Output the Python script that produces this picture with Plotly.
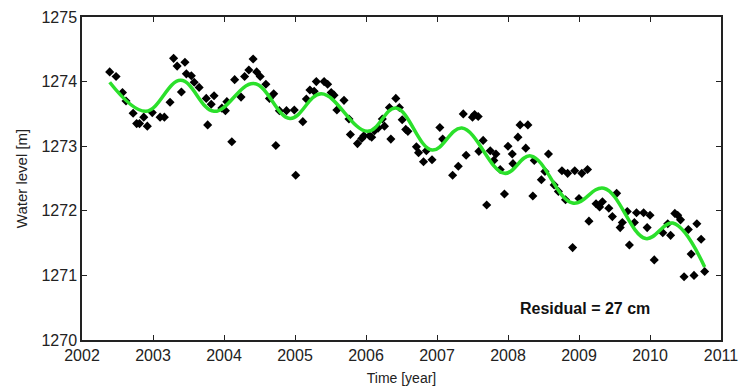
import plotly.graph_objects as go

# Observed water levels (decimal year, metres)
obs_year = [
    2002.39, 2002.48, 2002.57, 2002.62, 2002.72, 2002.77, 2002.81, 2002.87, 2002.92, 2002.99,
    2003.10, 2003.16, 2003.24, 2003.29, 2003.34, 2003.40, 2003.45, 2003.47, 2003.54, 2003.58,
    2003.65, 2003.75, 2003.77, 2003.82, 2003.86, 2003.97, 2004.02, 2004.04, 2004.11, 2004.15,
    2004.24, 2004.29, 2004.35, 2004.41, 2004.46, 2004.51, 2004.59, 2004.64, 2004.70, 2004.73,
    2004.78, 2004.88, 2004.99, 2005.01, 2005.11, 2005.16, 2005.21, 2005.27, 2005.30, 2005.41,
    2005.46, 2005.51, 2005.55, 2005.59, 2005.69, 2005.76, 2005.78, 2005.88, 2005.94, 2005.97,
    2006.05, 2006.08, 2006.12, 2006.17, 2006.23, 2006.26, 2006.33, 2006.35, 2006.42, 2006.47,
    2006.51, 2006.56, 2006.59, 2006.71, 2006.74, 2006.81, 2006.85, 2006.93, 2007.04, 2007.08,
    2007.22, 2007.30, 2007.37, 2007.41, 2007.50, 2007.53, 2007.58, 2007.59, 2007.65, 2007.70,
    2007.75, 2007.80, 2007.83, 2007.89, 2007.95, 2008.00, 2008.06, 2008.07, 2008.14, 2008.17,
    2008.28, 2008.25, 2008.35, 2008.37, 2008.47, 2008.52, 2008.57, 2008.65, 2008.71, 2008.76,
    2008.81, 2008.84, 2008.91, 2008.94, 2009.00, 2009.04, 2009.12, 2009.14, 2009.24, 2009.29,
    2009.33, 2009.42, 2009.47, 2009.53, 2009.58, 2009.61, 2009.68, 2009.71, 2009.78, 2009.81,
    2009.91, 2009.96, 2010.00, 2010.06, 2010.18, 2010.25, 2010.29, 2010.35, 2010.39, 2010.43,
    2010.48, 2010.54, 2010.58, 2010.62, 2010.66, 2010.72, 2010.77,
]
obs_level = [
    1274.15, 1274.08, 1273.83, 1273.70, 1273.51, 1273.35, 1273.35, 1273.45, 1273.31, 1273.52,
    1273.45, 1273.45, 1273.68, 1274.36, 1274.24, 1273.84, 1274.30, 1274.12, 1274.09, 1273.99,
    1273.91, 1273.74, 1273.33, 1273.65, 1273.78, 1273.59, 1273.55, 1273.69, 1273.07, 1274.03,
    1273.76, 1274.08, 1274.18, 1274.35, 1274.15, 1274.08, 1273.96, 1273.74, 1273.81, 1273.01,
    1273.55, 1273.55, 1273.56, 1272.55, 1273.38, 1273.73, 1273.87, 1273.85, 1274.00, 1274.00,
    1273.96, 1273.83, 1273.79, 1273.56, 1273.71, 1273.42, 1273.18, 1273.04, 1273.12, 1273.16,
    1273.16, 1273.14, 1273.24, 1273.28, 1273.42, 1273.31, 1273.60, 1273.11, 1273.74, 1273.60,
    1273.41, 1273.26, 1273.23, 1272.99, 1272.90, 1272.76, 1272.93, 1272.79, 1273.29, 1273.11,
    1272.55, 1272.69, 1273.50, 1272.86, 1273.45, 1273.49, 1273.46, 1272.92, 1273.09, 1272.09,
    1272.93, 1272.78, 1272.88, 1272.64, 1272.26, 1273.00, 1272.88, 1272.73, 1273.14, 1273.33,
    1273.33, 1272.97, 1272.23, 1272.78, 1272.48, 1272.61, 1272.88, 1272.40, 1272.30, 1272.62,
    1272.17, 1272.58, 1271.43, 1272.62, 1272.19, 1272.58, 1272.64, 1271.84, 1272.11, 1272.06,
    1272.14, 1272.04, 1271.91, 1272.27, 1271.74, 1271.82, 1271.99, 1271.47, 1271.82, 1271.97,
    1271.97, 1271.74, 1271.93, 1271.24, 1271.66, 1271.80, 1271.62, 1271.96, 1271.93, 1271.86,
    1270.98, 1271.71, 1271.33, 1271.00, 1271.80, 1271.56, 1271.06,
]

# Fitted seasonal + trend model (turning points of the curve)
fit_year = [
    2002.39, 2002.90, 2003.39, 2003.86, 2004.42, 2004.93, 2005.37, 2006.02, 2006.42,
    2006.93, 2007.35, 2007.95, 2008.32, 2008.91, 2009.35, 2009.94, 2010.32, 2010.77,
]
fit_level = [
    1273.99, 1273.54, 1274.02, 1273.54, 1273.97, 1273.43, 1273.81, 1273.23, 1273.59,
    1272.94, 1273.28, 1272.58, 1272.85, 1272.12, 1272.35, 1271.57, 1271.81, 1271.13,
]

year_ticks = list(range(2002, 2012))
level_ticks = list(range(1270, 1276))

FONT = "Liberation Sans, Arial, sans-serif"

fig = go.Figure()
fig.add_trace(go.Scatter(
    x=obs_year, y=obs_level, mode="markers",
    marker=dict(symbol="diamond", size=7, color="black", line=dict(width=0)),
    showlegend=False,
))
fig.add_trace(go.Scatter(
    x=fit_year, y=fit_level, mode="lines",
    line=dict(color="#2be02b", width=3.5, shape="spline", smoothing=1.1),
    showlegend=False,
))

fig.add_annotation(
    x=2009.09, y=1270.49, xref="x", yref="y",
    text="<b>Residual = 27 cm</b>", showarrow=False,
    font=dict(family=FONT, size=16, color="#111"),
)

axis_common = dict(
    showline=True, linecolor="#222", linewidth=1.5, mirror="ticks",
    ticks="inside", ticklen=5, tickwidth=1.2, tickcolor="#222",
    showgrid=False, zeroline=False, ticklabeloverflow="allow",
    tickfont=dict(family=FONT, size=16, color="#222"),
)

fig.update_xaxes(
    range=[2002, 2011], tickvals=year_ticks, ticktext=[str(v) for v in year_ticks],
    title=dict(text="Time [year]", font=dict(family=FONT, size=14, color="#222"), standoff=10),
    **axis_common,
)
fig.update_yaxes(
    range=[1270, 1275], tickvals=level_ticks, ticktext=[str(v) for v in level_ticks],
    title=dict(text="Water level [m]", font=dict(family=FONT, size=15, color="#222"), standoff=10),
    **axis_common,
)

fig.update_layout(
    width=740, height=389,
    margin=dict(l=82, r=19, t=17, b=49, autoexpand=False),
    paper_bgcolor="white", plot_bgcolor="white",
)

fig.write_html("out.html")
